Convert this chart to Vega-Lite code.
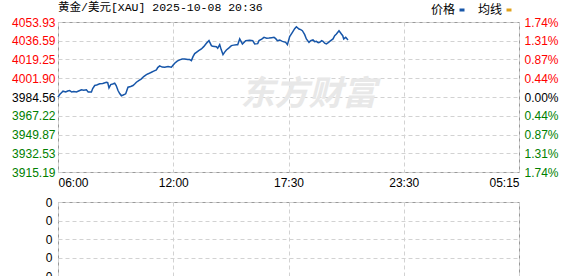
{
  "$schema": "https://vega.github.io/schema/vega-lite/v6.json",
  "background": "white",
  "padding": {"left": 11, "top": 1, "right": 0, "bottom": 0},
  "spacing": 6,
  "config": {
    "view": {"stroke": "#999999", "strokeWidth": 1},
    "axis": {"gridColor": "#d2d2d2", "gridDash": [4, 3], "gridWidth": 1, "ticks": false, "domain": false, "labelFont": "Liberation Sans", "labelFontSize": 12},
    "legend": {"labelFont": "Noto Sans CJK SC", "labelFontSize": 12, "labelColor": "#000000"}
  },
  "datasets": {
    "price": [
      {"t":0,"p":3984.37},{"t":5.1,"p":3986.86},{"t":9.7,"p":3988.25},{"t":15.1,"p":3989.91},{"t":23.3,"p":3989.17},{"t":29.4,"p":3990.09},{"t":35.4,"p":3990.55},{"t":41.5,"p":3989.17},{"t":47.5,"p":3989.63},{"t":55.7,"p":3989.17},{"t":62.6,"p":3990.09},{"t":70.8,"p":3991.2},{"t":77.8,"p":3990.74},{"t":85.9,"p":3991.2},{"t":91.4,"p":3989.17},{"t":101.1,"p":3989.17},{"t":105,"p":3992.4},{"t":111.1,"p":3995.17},{"t":117.1,"p":3995.63},{"t":126.2,"p":3996.73},{"t":135.3,"p":3997.01},{"t":146.5,"p":3998.21},{"t":150.4,"p":3997.93},{"t":154.3,"p":3993.04},{"t":159.5,"p":3996.09},{"t":165.5,"p":3996.55},{"t":171.6,"p":3997.29},{"t":176.1,"p":3995.17},{"t":181.6,"p":3990.55},{"t":186.7,"p":3987.79},{"t":191.8,"p":3985.66},{"t":197.3,"p":3986.4},{"t":204.9,"p":3987.51},{"t":211.8,"p":3993.6},{"t":220,"p":3994.24},{"t":227,"p":3995.17},{"t":232.1,"p":3996.55},{"t":237.2,"p":3998.21},{"t":244.2,"p":3999.78},{"t":252.4,"p":4001.35},{"t":259.3,"p":4003.47},{"t":267.5,"p":4005.31},{"t":274.5,"p":4006.24},{"t":282.6,"p":4007.44},{"t":289.6,"p":4008.54},{"t":297.8,"p":4009.65},{"t":301.7,"p":4011.77},{"t":307.7,"p":4013.34},{"t":315.3,"p":4012.23},{"t":322.9,"p":4012.05},{"t":332.9,"p":4012.69},{"t":343.1,"p":4012.05},{"t":348.6,"p":4014.08},{"t":353.1,"p":4015.74},{"t":360.7,"p":4017.77},{"t":368.3,"p":4018.87},{"t":375.8,"p":4019.61},{"t":383.4,"p":4019.8},{"t":392.5,"p":4019.15},{"t":398.5,"p":4019.15},{"t":403.7,"p":4018.23},{"t":408.5,"p":4021.92},{"t":413.7,"p":4024.69},{"t":418.8,"p":4025.89},{"t":425.8,"p":4027.45},{"t":433.9,"p":4029.02},{"t":440.9,"p":4031.14},{"t":449.1,"p":4034.19},{"t":456.9,"p":4036.68},{"t":464.2,"p":4032.07},{"t":468.1,"p":4031.42},{"t":479.3,"p":4031.14},{"t":483.3,"p":4029.76},{"t":489.3,"p":4032.99},{"t":493.8,"p":4028.38},{"t":499.3,"p":4023.76},{"t":504.4,"p":4026.07},{"t":509.6,"p":4028.1},{"t":516.5,"p":4029.76},{"t":524.7,"p":4032.07},{"t":531.7,"p":4032.53},{"t":539.8,"p":4032.99},{"t":543.8,"p":4032.99},{"t":549.8,"p":4038.25},{"t":558,"p":4033.63},{"t":568,"p":4036.68},{"t":580.1,"p":4037.14},{"t":589.2,"p":4036.68},{"t":595.2,"p":4033.63},{"t":604.3,"p":4033.91},{"t":608.3,"p":4036.68},{"t":616.4,"p":4038.06},{"t":623.4,"p":4039.72},{"t":631.5,"p":4038.99},{"t":638.5,"p":4039.17},{"t":646.7,"p":4039.45},{"t":653.6,"p":4039.72},{"t":658.8,"p":4038.52},{"t":663.9,"p":4036.68},{"t":670.9,"p":4037.14},{"t":679,"p":4036.03},{"t":689,"p":4035.11},{"t":694.2,"p":4032.99},{"t":701.1,"p":4040.37},{"t":709.3,"p":4044.34},{"t":716.2,"p":4047.75},{"t":721.4,"p":4049.59},{"t":729.2,"p":4047.47},{"t":734.4,"p":4046.83},{"t":739.5,"p":4045.9},{"t":746.5,"p":4042.21},{"t":751.6,"p":4038.25},{"t":759.5,"p":4035.11},{"t":764.6,"p":4036.68},{"t":771.6,"p":4037.32},{"t":776.7,"p":4035.76},{"t":781.9,"p":4036.03},{"t":787.4,"p":4034.83},{"t":791.9,"p":4035.11},{"t":797.9,"p":4036.68},{"t":801.9,"p":4036.03},{"t":807,"p":4034.37},{"t":812.2,"p":4033.63},{"t":817.6,"p":4034.83},{"t":822.2,"p":4036.03},{"t":832.2,"p":4038.25},{"t":837.3,"p":4041.29},{"t":842.5,"p":4042.86},{"t":850.3,"p":4045.9},{"t":857.6,"p":4042.86},{"t":861.6,"p":4041.29},{"t":864.6,"p":4038.25},{"t":870.6,"p":4039.72},{"t":877.5,"p":4037.32}
    ],
    "mark": [{"t": 758, "p": 3986.5, "label": "东方财富"}],
    "vol": [{"t": 0, "v": 0}, {"t": 1395, "v": 0}]
  },
  "vconcat": [
    {
      "width": 461,
      "height": 150,
      "title": {"text": "黄金/美元[XAU] 2025-10-08 20:36", "anchor": "start", "frame": "group", "font": "Liberation Mono, Noto Sans CJK SC", "fontSize": 11.5, "fontWeight": "normal", "color": "#000000", "offset": 3},
      "resolve": {"axis": {"y": "independent"}},
      "layer": [
        {
          "data": {"name": "mark"},
          "mark": {"type": "text", "font": "Noto Sans CJK SC", "fontSize": 34, "fontWeight": "bold", "fontStyle": "italic", "color": "#e8e8e8"},
          "encoding": {
            "x": {"field": "t", "type": "quantitative", "scale": {"domain": [0, 1395], "nice": false, "zero": false},
                  "axis": {"title": null, "values": [0, 348.75, 697.5, 1046.25, 1395], "labelFlush": true, "labelPadding": 5, "labelColor": "#000000",
                           "labelExpr": "datum.value < 1 ? '06:00' : datum.value < 400 ? '12:00' : datum.value < 800 ? '17:30' : datum.value < 1100 ? '23:30' : '05:15'"}},
            "y": {"field": "p", "type": "quantitative", "scale": {"domain": [3915.19, 4053.93], "nice": false, "zero": false},
                  "axis": {"title": null, "orient": "left", "values": [3915.19, 3932.53, 3949.87, 3967.22, 3984.56, 4001.9, 4019.25, 4036.59, 4053.93], "format": ".2f", "labelPadding": 3,
                           "labelColor": {"condition": [{"test": "datum.value > 3985", "value": "#ff0000"}, {"test": "datum.value < 3984", "value": "#008000"}], "value": "#000000"}}},
            "text": {"field": "label"}
          }
        },
        {
          "data": {"name": "price"},
          "mark": {"type": "line", "strokeWidth": 1.5},
          "encoding": {
            "x": {"field": "t", "type": "quantitative"},
            "y": {"field": "p", "type": "quantitative",
                  "axis": {"title": null, "orient": "right", "grid": false, "values": [3915.19, 3932.53, 3949.87, 3967.22, 3984.56, 4001.9, 4019.25, 4036.59, 4053.93], "labelPadding": 5,
                           "labelExpr": "format(abs(datum.value - 3984.56) / 3984.56 * 100, '.2f') + '%'",
                           "labelColor": {"condition": [{"test": "datum.value > 3985", "value": "#ff0000"}, {"test": "datum.value < 3984", "value": "#008000"}], "value": "#000000"}}},
            "color": {"datum": "价格", "type": "nominal", "scale": {"domain": ["价格", "均线"], "range": ["#1756a9", "#e0a21c"]},
                      "legend": {"title": null, "orient": "none", "legendX": 398, "legendY": -18, "direction": "horizontal",
                                 "symbolType": "stroke", "symbolSize": 25, "symbolStrokeWidth": 3,
                                 "labelAlign": "right", "labelOffset": -13, "columnPadding": 6}}
          }
        }
      ]
    },
    {
      "width": 461,
      "height": 74,
      "data": {"name": "vol"},
      "mark": {"type": "point", "opacity": 0},
      "encoding": {
        "x": {"field": "t", "type": "quantitative", "scale": {"domain": [0, 1395], "nice": false, "zero": false},
              "axis": {"title": null, "values": [0, 348.75, 697.5, 1046.25, 1395], "labels": false}},
        "y": {"field": "v", "type": "quantitative", "scale": {"domain": [0, 1], "nice": false},
              "axis": {"title": null, "values": [0, 0.25, 0.5, 0.75, 1], "labelExpr": "'0'", "labelPadding": 6, "labelColor": "#000000"}}
      }
    }
  ]
}
